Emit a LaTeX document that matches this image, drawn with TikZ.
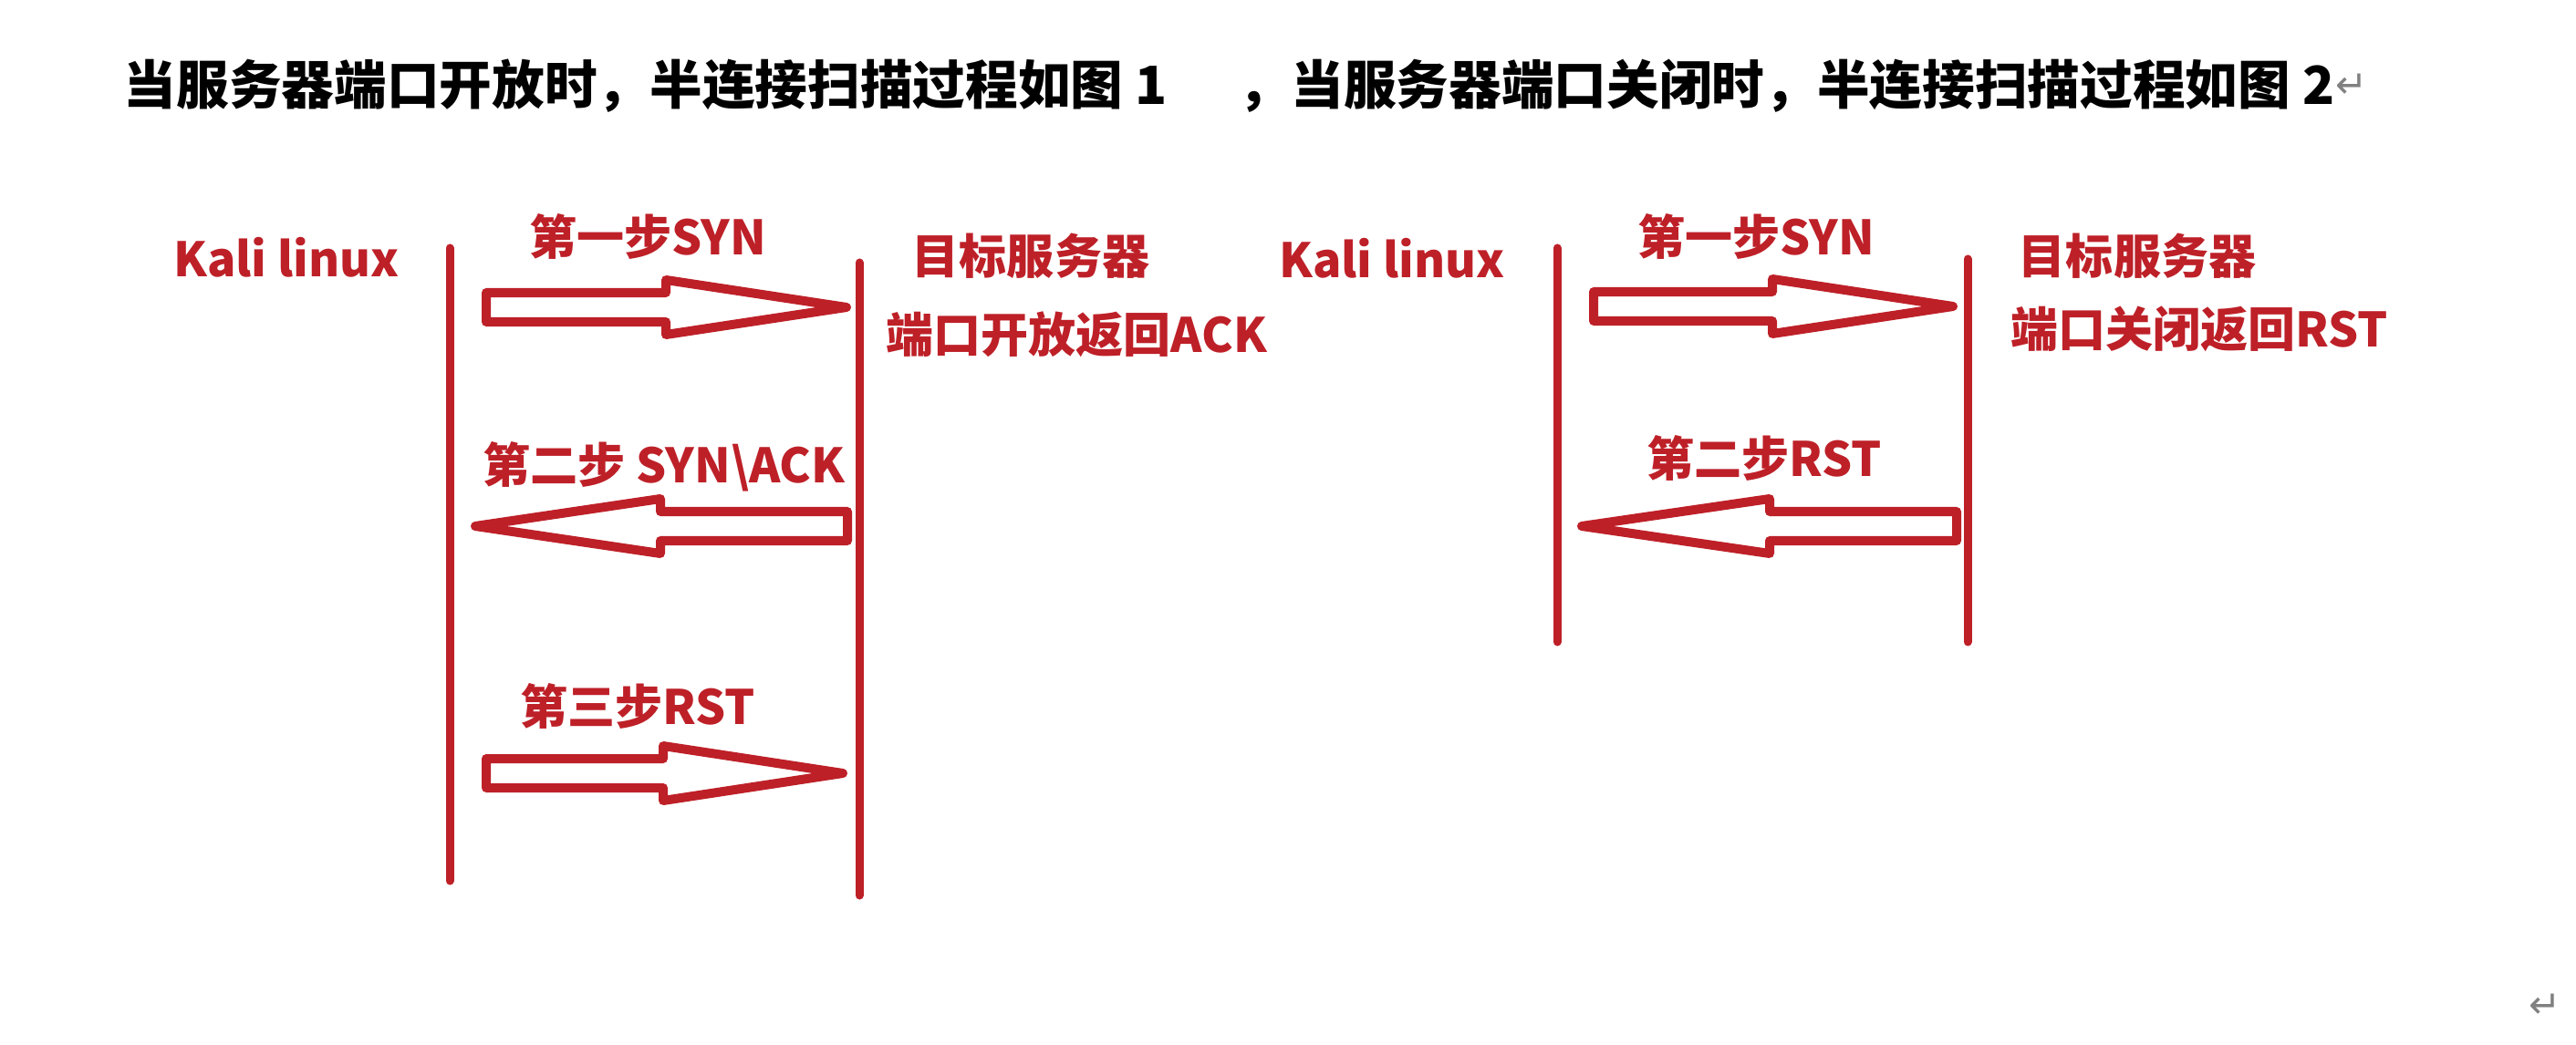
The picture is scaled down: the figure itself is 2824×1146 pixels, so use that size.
\documentclass[tikz,border=0pt]{standalone}
\usepackage{fontspec}
\usepackage{tikz}
\newfontfamily\cjk{Noto Sans CJK SC}
\newfontfamily\sym{DejaVu Sans}
\definecolor{kred}{RGB}{190,32,40}

\begin{document}
\begin{tikzpicture}[x=0.01cm, y=-0.01cm,
    lbl/.style={text=kred, font=\cjk\bfseries\fontsize{14.8}{17}\selectfont, inner sep=0},
    head/.style={font=\cjk\bfseries\fontsize{16.4}{19}\selectfont, inner sep=0, anchor=west},
    retmark/.style={text=gray, font=\sym\fontsize{12}{14}\selectfont, inner sep=0},
    life/.style={draw=kred, line width=0.09cm, line cap=round},
    fat/.style={draw=kred, fill=white, line width=0.1cm, line join=round}]
  \fill [white] (0,0) rectangle (2824,1146);
  \useasboundingbox (0,0) rectangle (2824,1146);
  % title
  \node (tone) at (135,94) [head] {当服务器端口开放时，半连接扫描过程如图 1};
  \node (ttwo) at (1357,94) [head] {，当服务器端口关闭时，半连接扫描过程如图 2};
  \node (tret) at (ttwo.east) [retmark, anchor=west] {↵};
  \node (eret) at (2790,1103) [retmark] {↵};
  % figure 1: port open
  \coordinate (kaup) at (493,272);
  \coordinate (kadn) at (493,966);
  \coordinate (svup) at (942,288);
  \coordinate (svdn) at (942,982);
  \draw [life] (kaup) -- (kadn);
  \draw [life] (svup) -- (svdn);
  \node (kalia) at (314,282) [lbl] {Kali linux};
  \node (srva) at (1130,281) [lbl] {目标服务器};
  \node (opena) at (1180,367) [lbl] {端口开放返回ACK};
  \node (syna) at (710,259) [lbl] {第一步SYN};
  \node (acka) at (728,512) [lbl] {第二步 SYN\textbackslash ACK};
  \node (rsta) at (699,774) [lbl] {第三步RST};
  \draw [fat] (533,321) -- (730,321) -- (730,307) -- (928,337) -- (730,367) -- (730,353) -- (533,353) -- cycle;
  \draw [fat] (929,561) -- (724,561) -- (724,547) -- (521,577) -- (724,607) -- (724,593) -- (929,593) -- cycle;
  \draw [fat] (533,832) -- (727,832) -- (727,818) -- (924,848) -- (727,878) -- (727,864) -- (533,864) -- cycle;
  % figure 2: port closed
  \coordinate (kbup) at (1707,272);
  \coordinate (kbdn) at (1707,704);
  \coordinate (sbup) at (2157,284);
  \coordinate (sbdn) at (2157,704);
  \draw [life] (kbup) -- (kbdn);
  \draw [life] (sbup) -- (sbdn);
  \node (kalib) at (1526,283) [lbl] {Kali linux};
  \node (srvb) at (2343,281) [lbl] {目标服务器};
  \node (closeb) at (2411,361) [lbl] {端口关闭返回RST};
  \node (synb) at (1925,259) [lbl] {第一步SYN};
  \node (rstb) at (1934,502) [lbl] {第二步RST};
  \draw [fat] (1747,320) -- (1943,320) -- (1943,306) -- (2141,336) -- (1943,366) -- (1943,352) -- (1747,352) -- cycle;
  \draw [fat] (2145,561) -- (1940,561) -- (1940,547) -- (1734,577) -- (1940,607) -- (1940,593) -- (2145,593) -- cycle;
\end{tikzpicture}
\end{document}
